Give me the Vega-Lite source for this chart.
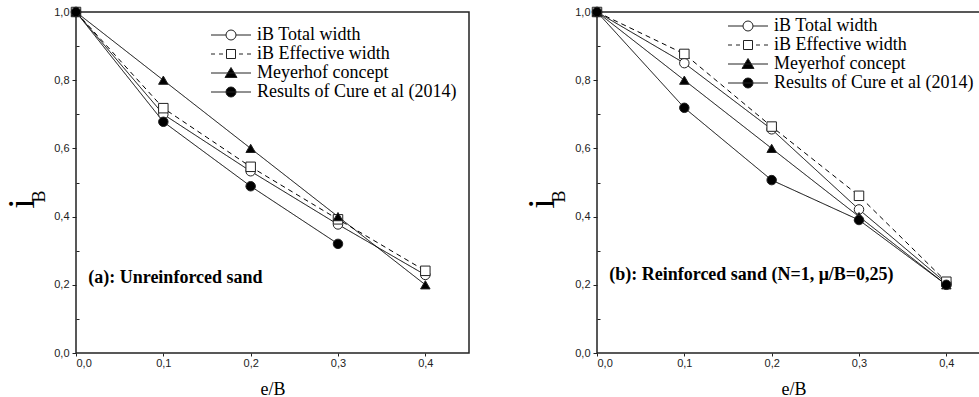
{
  "$schema": "https://vega.github.io/schema/vega-lite/v6.json",
  "padding": {"left": 2, "top": 4, "right": 0, "bottom": 0},
  "bounds": "flush",
  "spacing": 128,
  "background": "white",
  "config": {
    "view": {"stroke": "#222", "strokeWidth": 1.5},
    "axis": {
      "labelFont": "Liberation Sans",
      "labelFontSize": 11,
      "labelColor": "#222",
      "titleFont": "Liberation Serif",
      "titleColor": "black",
      "titleFontWeight": "normal",
      "domain": false,
      "grid": false,
      "tickColor": "#222"
    },
    "legend": {
      "orient": "none", "title": null, "padding": 0, "rowPadding": 1, "labelOffset": 17, "symbolSize": 100,
      "symbolStrokeWidth": 1, "labelFont": "Liberation Serif", "labelFontSize": 18, "labelColor": "black", "labelLimit": 0
    }
  },
  "datasets": {
    "pts": [
      {"panel": "a", "series": "iB Total width", "eB": 0.0, "iB": 1.0},
      {"panel": "a", "series": "iB Total width", "eB": 0.1, "iB": 0.70},
      {"panel": "a", "series": "iB Total width", "eB": 0.2, "iB": 0.533},
      {"panel": "a", "series": "iB Total width", "eB": 0.3, "iB": 0.377},
      {"panel": "a", "series": "iB Total width", "eB": 0.4, "iB": 0.229},
      {"panel": "a", "series": "iB Effective width", "eB": 0.0, "iB": 1.0},
      {"panel": "a", "series": "iB Effective width", "eB": 0.1, "iB": 0.718},
      {"panel": "a", "series": "iB Effective width", "eB": 0.2, "iB": 0.546},
      {"panel": "a", "series": "iB Effective width", "eB": 0.3, "iB": 0.392},
      {"panel": "a", "series": "iB Effective width", "eB": 0.4, "iB": 0.241},
      {"panel": "a", "series": "Meyerhof concept", "eB": 0.0, "iB": 1.0},
      {"panel": "a", "series": "Meyerhof concept", "eB": 0.1, "iB": 0.8},
      {"panel": "a", "series": "Meyerhof concept", "eB": 0.2, "iB": 0.6},
      {"panel": "a", "series": "Meyerhof concept", "eB": 0.3, "iB": 0.4},
      {"panel": "a", "series": "Meyerhof concept", "eB": 0.4, "iB": 0.2},
      {"panel": "a", "series": "Results of Cure et al (2014)", "eB": 0.0, "iB": 1.0},
      {"panel": "a", "series": "Results of Cure et al (2014)", "eB": 0.1, "iB": 0.678},
      {"panel": "a", "series": "Results of Cure et al (2014)", "eB": 0.2, "iB": 0.489},
      {"panel": "a", "series": "Results of Cure et al (2014)", "eB": 0.3, "iB": 0.32},
      {"panel": "b", "series": "iB Total width", "eB": 0.0, "iB": 1.0},
      {"panel": "b", "series": "iB Total width", "eB": 0.1, "iB": 0.85},
      {"panel": "b", "series": "iB Total width", "eB": 0.2, "iB": 0.656},
      {"panel": "b", "series": "iB Total width", "eB": 0.3, "iB": 0.421},
      {"panel": "b", "series": "iB Total width", "eB": 0.4, "iB": 0.205},
      {"panel": "b", "series": "iB Effective width", "eB": 0.0, "iB": 1.0},
      {"panel": "b", "series": "iB Effective width", "eB": 0.1, "iB": 0.877},
      {"panel": "b", "series": "iB Effective width", "eB": 0.2, "iB": 0.664},
      {"panel": "b", "series": "iB Effective width", "eB": 0.3, "iB": 0.461},
      {"panel": "b", "series": "iB Effective width", "eB": 0.4, "iB": 0.209},
      {"panel": "b", "series": "Meyerhof concept", "eB": 0.0, "iB": 1.0},
      {"panel": "b", "series": "Meyerhof concept", "eB": 0.1, "iB": 0.8},
      {"panel": "b", "series": "Meyerhof concept", "eB": 0.2, "iB": 0.6},
      {"panel": "b", "series": "Meyerhof concept", "eB": 0.3, "iB": 0.4},
      {"panel": "b", "series": "Meyerhof concept", "eB": 0.4, "iB": 0.2},
      {"panel": "b", "series": "Results of Cure et al (2014)", "eB": 0.0, "iB": 1.0},
      {"panel": "b", "series": "Results of Cure et al (2014)", "eB": 0.1, "iB": 0.719},
      {"panel": "b", "series": "Results of Cure et al (2014)", "eB": 0.2, "iB": 0.507},
      {"panel": "b", "series": "Results of Cure et al (2014)", "eB": 0.3, "iB": 0.39},
      {"panel": "b", "series": "Results of Cure et al (2014)", "eB": 0.4, "iB": 0.2}
    ],
    "notes": [
      {"panel": "a", "label": "(a): Unreinforced sand", "eB": 0.014, "iB": 0.22},
      {"panel": "b", "label": "(b): Reinforced sand (N=1, μ/B=0,25)", "eB": 0.014, "iB": 0.229}
    ]
  },
  "hconcat": [
    {
      "width": 393,
      "height": 341,
      "layer": [
        {
          "data": {"name": "pts"},
          "transform": [{"filter": "datum.panel == 'a'"}],
          "mark": {"type": "line", "color": "black", "strokeWidth": 1},
          "encoding": {
            "x": {"field": "eB", "type": "quantitative", "scale": {"domain": [0, 0.45], "nice": false},
              "axis": {"values": [0, 0.1, 0.2, 0.3, 0.4], "format": ".1f", "labelExpr": "replace(datum.label, '.', ',')", "tickSize": 3, "labelPadding": 1, "title": "e/B", "titleFontSize": 18, "titlePadding": 12}},
            "y": {"field": "iB", "type": "quantitative", "scale": {"domain": [0, 1], "nice": false},
              "axis": {"orient": "left", "values": [0, 0.2, 0.4, 0.6, 0.8, 1.0], "format": ".1f", "labelExpr": "replace(datum.label, '.', ',')", "tickSize": 4, "labelPadding": 3, "title": "i", "titleFontSize": 38, "titleX": -43, "titleY": 191, "titleAlign": "center", "titleBaseline": "alphabetic"}},
            "detail": {"field": "series", "type": "nominal"},
            "strokeDash": {"field": "series", "type": "nominal", "legend": null,
              "scale": {"domain": ["iB Total width", "iB Effective width", "Meyerhof concept", "Results of Cure et al (2014)"], "range": [[1, 0], [5, 4], [1, 0], [1, 0]]}}
          }
        },
        {
          "data": {"name": "pts"},
          "transform": [{"filter": "datum.panel == 'a'"}],
          "mark": {"type": "point", "size": 90, "stroke": "#222", "strokeWidth": 1, "opacity": 1},
          "encoding": {
            "x": {"field": "eB", "type": "quantitative"},
            "y": {"field": "iB", "type": "quantitative",
              "axis": {"orient": "left", "values": [0.1, 0.3, 0.5, 0.7, 0.9], "labels": false, "tickSize": -3, "title": "B", "titleFontSize": 18, "titleX": -32, "titleY": 184, "titleAlign": "center", "titleBaseline": "alphabetic"}},
            "shape": {"field": "series", "type": "nominal", "legend": null,
              "scale": {"domain": ["iB Total width", "iB Effective width", "Meyerhof concept", "Results of Cure et al (2014)"], "range": ["circle", "square", "triangle-up", "circle"]}},
            "fill": {"field": "series", "type": "nominal", "legend": null,
              "scale": {"domain": ["iB Total width", "iB Effective width", "Meyerhof concept", "Results of Cure et al (2014)"], "range": ["white", "white", "black", "black"]}}
          }
        },
        {
          "data": {"name": "pts"},
          "transform": [{"filter": "datum.panel == 'a'"}],
          "mark": {"type": "point", "size": 0, "strokeWidth": 1, "opacity": 1},
          "encoding": {
            "x": {"field": "eB", "type": "quantitative"},
            "y": {"field": "iB", "type": "quantitative", "axis": null},
            "shape": {"field": "series", "type": "nominal",
              "scale": {"domain": ["iB Total width", "iB Effective width", "Meyerhof concept", "Results of Cure et al (2014)"],
                "range": ["M-4,0L-1,0M1,0L4,0M-1,0A1,1,0,1,0,1,0A1,1,0,1,0,-1,0Z", "M-4,0L-3.2,0M-2.4,0L-1.6,0M-0.9,-0.9L0.9,-0.9L0.9,0.9L-0.9,0.9ZM1.6,0L2.4,0M3.2,0L4,0", "M-4,0L4,0M0,-1.1L1.2,0.9L-1.2,0.9Z", "M-4,0L4,0M-1,0A1,1,0,1,0,1,0A1,1,0,1,0,-1,0Z"]},
              "legend": {"legendX": 146, "legendY": 14}},
            "fill": {"field": "series", "type": "nominal",
              "scale": {"domain": ["iB Total width", "iB Effective width", "Meyerhof concept", "Results of Cure et al (2014)"], "range": ["white", "white", "black", "black"]},
              "legend": {"legendX": 146, "legendY": 14}},
            "stroke": {"field": "series", "type": "nominal",
              "scale": {"domain": ["iB Total width", "iB Effective width", "Meyerhof concept", "Results of Cure et al (2014)"], "range": ["#222", "#222", "#222", "#222"]},
              "legend": {"legendX": 146, "legendY": 14}}
          }
        },
        {
          "data": {"name": "notes"},
          "transform": [{"filter": "datum.panel == 'a'"}],
          "mark": {"type": "text", "align": "left", "baseline": "middle", "font": "Liberation Serif", "fontSize": 18, "fontWeight": "bold", "color": "black"},
          "encoding": {
            "x": {"field": "eB", "type": "quantitative"},
            "y": {"field": "iB", "type": "quantitative", "axis": null},
            "text": {"field": "label"}
          }
        }
      ],
      "resolve": {"scale": {"shape": "independent", "fill": "independent", "stroke": "independent"}, "axis": {"y": "independent"}}
    },
    {
      "width": 393,
      "height": 341,
      "layer": [
        {
          "data": {"name": "pts"},
          "transform": [{"filter": "datum.panel == 'b'"}],
          "mark": {"type": "line", "color": "black", "strokeWidth": 1},
          "encoding": {
            "x": {"field": "eB", "type": "quantitative", "scale": {"domain": [0, 0.45], "nice": false},
              "axis": {"values": [0, 0.1, 0.2, 0.3, 0.4], "format": ".1f", "labelExpr": "replace(datum.label, '.', ',')", "tickSize": 3, "labelPadding": 1, "title": "e/B", "titleFontSize": 18, "titlePadding": 12}},
            "y": {"field": "iB", "type": "quantitative", "scale": {"domain": [0, 1], "nice": false},
              "axis": {"orient": "left", "values": [0, 0.2, 0.4, 0.6, 0.8, 1.0], "format": ".1f", "labelExpr": "replace(datum.label, '.', ',')", "tickSize": 4, "labelPadding": 3, "title": "i", "titleFontSize": 38, "titleX": -44, "titleY": 191, "titleAlign": "center", "titleBaseline": "alphabetic"}},
            "detail": {"field": "series", "type": "nominal"},
            "strokeDash": {"field": "series", "type": "nominal", "legend": null,
              "scale": {"domain": ["iB Total width", "iB Effective width", "Meyerhof concept", "Results of Cure et al (2014)"], "range": [[1, 0], [5, 4], [1, 0], [1, 0]]}}
          }
        },
        {
          "data": {"name": "pts"},
          "transform": [{"filter": "datum.panel == 'b'"}],
          "mark": {"type": "point", "size": 90, "stroke": "#222", "strokeWidth": 1, "opacity": 1},
          "encoding": {
            "x": {"field": "eB", "type": "quantitative"},
            "y": {"field": "iB", "type": "quantitative",
              "axis": {"orient": "left", "values": [0.1, 0.3, 0.5, 0.7, 0.9], "labels": false, "tickSize": -3, "title": "B", "titleFontSize": 18, "titleX": -33, "titleY": 184, "titleAlign": "center", "titleBaseline": "alphabetic"}},
            "shape": {"field": "series", "type": "nominal", "legend": null,
              "scale": {"domain": ["iB Total width", "iB Effective width", "Meyerhof concept", "Results of Cure et al (2014)"], "range": ["circle", "square", "triangle-up", "circle"]}},
            "fill": {"field": "series", "type": "nominal", "legend": null,
              "scale": {"domain": ["iB Total width", "iB Effective width", "Meyerhof concept", "Results of Cure et al (2014)"], "range": ["white", "white", "black", "black"]}}
          }
        },
        {
          "data": {"name": "pts"},
          "transform": [{"filter": "datum.panel == 'b'"}],
          "mark": {"type": "point", "size": 0, "strokeWidth": 1, "opacity": 1},
          "encoding": {
            "x": {"field": "eB", "type": "quantitative"},
            "y": {"field": "iB", "type": "quantitative", "axis": null},
            "shape": {"field": "series", "type": "nominal",
              "scale": {"domain": ["iB Total width", "iB Effective width", "Meyerhof concept", "Results of Cure et al (2014)"],
                "range": ["M-4,0L-1,0M1,0L4,0M-1,0A1,1,0,1,0,1,0A1,1,0,1,0,-1,0Z", "M-4,0L-3.2,0M-2.4,0L-1.6,0M-0.9,-0.9L0.9,-0.9L0.9,0.9L-0.9,0.9ZM1.6,0L2.4,0M3.2,0L4,0", "M-4,0L4,0M0,-1.1L1.2,0.9L-1.2,0.9Z", "M-4,0L4,0M-1,0A1,1,0,1,0,1,0A1,1,0,1,0,-1,0Z"]},
              "legend": {"legendX": 142, "legendY": 5}},
            "fill": {"field": "series", "type": "nominal",
              "scale": {"domain": ["iB Total width", "iB Effective width", "Meyerhof concept", "Results of Cure et al (2014)"], "range": ["white", "white", "black", "black"]},
              "legend": {"legendX": 142, "legendY": 5}},
            "stroke": {"field": "series", "type": "nominal",
              "scale": {"domain": ["iB Total width", "iB Effective width", "Meyerhof concept", "Results of Cure et al (2014)"], "range": ["#222", "#222", "#222", "#222"]},
              "legend": {"legendX": 142, "legendY": 5}}
          }
        },
        {
          "data": {"name": "notes"},
          "transform": [{"filter": "datum.panel == 'b'"}],
          "mark": {"type": "text", "align": "left", "baseline": "middle", "font": "Liberation Serif", "fontSize": 18, "fontWeight": "bold", "color": "black"},
          "encoding": {
            "x": {"field": "eB", "type": "quantitative"},
            "y": {"field": "iB", "type": "quantitative", "axis": null},
            "text": {"field": "label"}
          }
        }
      ],
      "resolve": {"scale": {"shape": "independent", "fill": "independent", "stroke": "independent"}, "axis": {"y": "independent"}}
    }
  ],
  "resolve": {"scale": {"shape": "independent", "fill": "independent", "stroke": "independent", "strokeDash": "independent"}}
}
